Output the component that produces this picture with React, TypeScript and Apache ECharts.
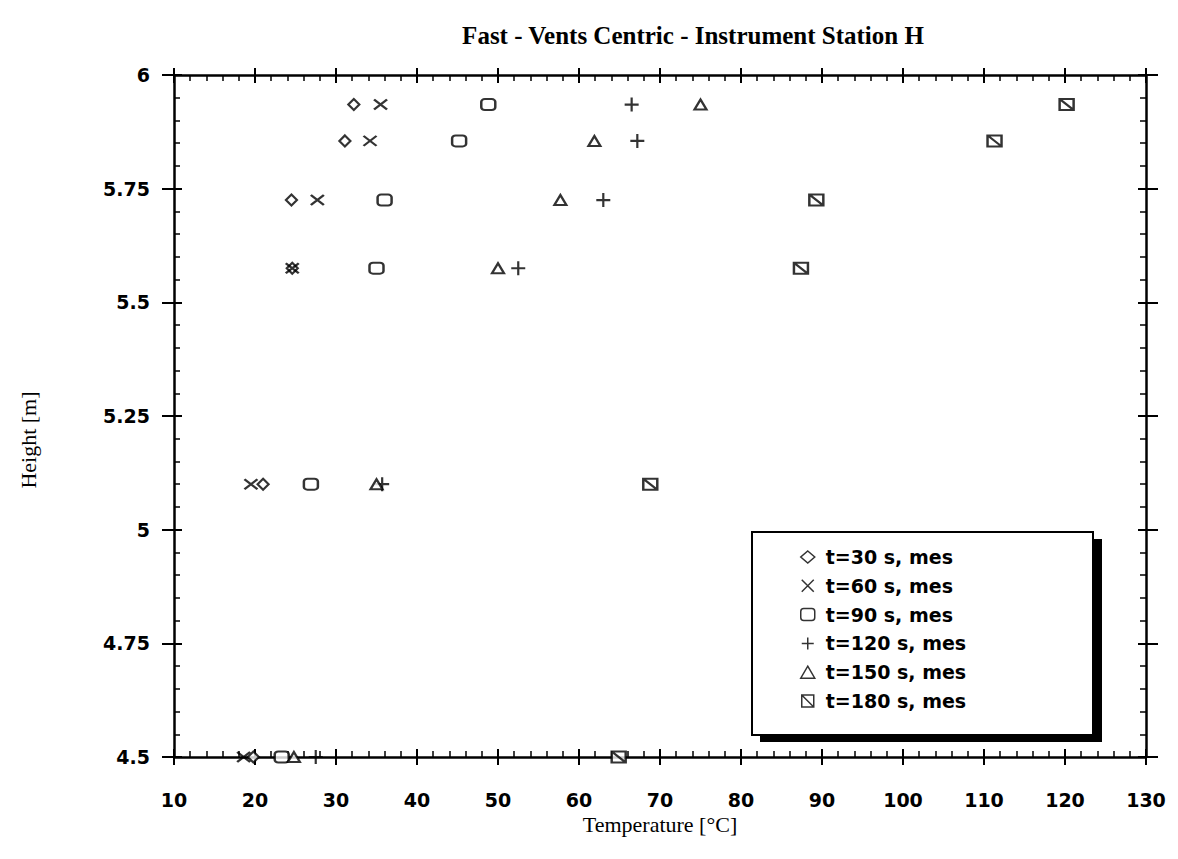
import React, { useEffect, useRef } from "react";
import * as echarts from "echarts";

const heights = [5.935, 5.855, 5.725, 5.575, 5.1, 4.5];
const t30 = [32.2, 31.1, 24.5, 24.6, 21.0, 19.8];
const t60 = [35.5, 34.2, 27.7, 24.6, 19.5, 18.6];
const t90 = [48.8, 45.2, 36.0, 35.0, 26.9, 23.3];
const t120 = [66.5, 67.2, 63.0, 52.5, 35.7, 27.5];
const t150 = [75.0, 61.9, 57.7, 50.0, 35.0, 24.8];
const t180 = [120.2, 111.3, 89.3, 87.4, 68.8, 64.9];

const seriesNames = [
  "t=30 s, mes",
  "t=60 s, mes",
  "t=90 s, mes",
  "t=120 s, mes",
  "t=150 s, mes",
  "t=180 s, mes",
];
const seriesValues = [t30, t60, t90, t120, t150, t180];

const symbols: [string, number[]][] = [
  ["diamond", [11, 11]],
  ["path://M0,0L10,10M10,0L0,10", [13, 10]],
  ["roundRect", [14, 11]],
  ["path://M0,5L10,5M5,0L5,10", [14, 14]],
  ["triangle", [12, 10]],
  ["path://M0,0L10,0L10,10L0,10ZM0,0L10,10", [14, 11]],
];

const xMin = 10, xMax = 130, xInterval = 10;
const yMin = 4.5, yMax = 6, yInterval = 0.25;

const labelFont = {
  color: "#000",
  fontSize: 19,
  fontWeight: "bold" as const,
  fontFamily: "DejaVu Sans",
};

export default function App() {
  const ref = useRef<HTMLDivElement>(null);
  useEffect(() => {
    document.body.style.margin = "0";
    const chart = echarts.init(ref.current!, null, { renderer: "svg" });
    const blk = "#000";
    const xBase = { type: "value", min: xMin, max: xMax, interval: xInterval, splitLine: { show: false } };
    const yBase = { type: "value", min: yMin, max: yMax, interval: yInterval, splitLine: { show: false } };
    const innerTicks = {
      axisLine: { show: true, onZero: false, lineStyle: { color: blk, width: 2.5 } },
      axisTick: { show: true, inside: true, length: 8, lineStyle: { color: blk, width: 2 } },
      minorTick: { show: true, splitNumber: 5, length: 6, lineStyle: { color: blk, width: 1.5 } },
    };
    const outerTicks = (len: number) => ({
      axisLine: { show: false, onZero: false },
      axisTick: { show: true, inside: false, length: len, lineStyle: { color: blk, width: 2 } },
      axisLabel: { show: false },
    });

    chart.setOption({
      animation: false,
      backgroundColor: "#fff",
      grid: { left: 174, right: 32, top: 75, bottom: 102, containLabel: false, outerBoundsMode: "none" },
      graphic: [
        {
          type: "text",
          x: 693,
          y: 35,
          style: {
            text: "Fast - Vents Centric - Instrument Station H",
            font: 'bold 25px "Liberation Serif"',
            fill: "#000",
            textAlign: "center",
            textVerticalAlign: "middle",
          },
        },
        {
          type: "text",
          x: 28,
          y: 440,
          rotation: Math.PI / 2,
          style: {
            text: "Height [m]",
            font: '22px "Liberation Serif"',
            fill: "#000",
            textAlign: "center",
            textVerticalAlign: "middle",
          },
        },
        {
          type: "rect",
          z: 3,
          shape: { x: 760, y: 539, width: 342, height: 203 },
          style: { fill: "#000" },
        },
        {
          type: "rect",
          z: 3,
          shape: { x: 752, y: 532, width: 341, height: 203 },
          style: { fill: "#fff", stroke: "#000", lineWidth: 2 },
        },
      ],
      legend: {
        orient: "vertical",
        left: 752,
        top: 532,
        z: 5,
        padding: [15, 20, 24, 48],
        itemGap: 8.8,
        itemWidth: 14,
        itemHeight: 12,
        itemStyle: { color: "#fff", borderColor: "#000", borderWidth: 1.5 },
        textStyle: {
          color: "#000",
          fontSize: 19,
          lineHeight: 20,
          fontFamily: "DejaVu Sans",
          fontWeight: "bold",
          padding: [0, 0, 0, 6],
        },
        data: seriesNames,
      },
      xAxis: [
        {
          ...xBase,
          position: "bottom",
          ...innerTicks,
          axisLabel: { ...labelFont, margin: 33 },
          name: "Temperature [°C]",
          nameLocation: "middle",
          nameGap: 46,
          nameTextStyle: { color: "#000", fontSize: 22, fontFamily: "Liberation Serif" },
        },
        { ...xBase, position: "bottom", ...outerTicks(8) },
        { ...xBase, position: "top", ...innerTicks, axisLabel: { show: false } },
        { ...xBase, position: "top", ...outerTicks(7) },
      ],
      yAxis: [
        {
          ...yBase,
          position: "left",
          ...innerTicks,
          axisLabel: { ...labelFont, margin: 24 },
        },
        { ...yBase, position: "left", ...outerTicks(12) },
        { ...yBase, position: "right", ...innerTicks, axisLabel: { show: false } },
        { ...yBase, position: "right", ...outerTicks(12) },
      ],
      series: seriesNames.map((name, i) => ({
        name,
        type: "scatter",
        xAxisIndex: 0,
        yAxisIndex: 0,
        symbol: symbols[i][0],
        symbolSize: symbols[i][1],
        clip: false,
        itemStyle: { color: "#fff", borderColor: "#000", borderWidth: 2.2 },
        data: seriesValues[i].map((v, j) => [v, heights[j]]),
      })),
    });
    return () => chart.dispose();
  }, []);
  return <div ref={ref} style={{ width: 1178, height: 859 }} />;
}
